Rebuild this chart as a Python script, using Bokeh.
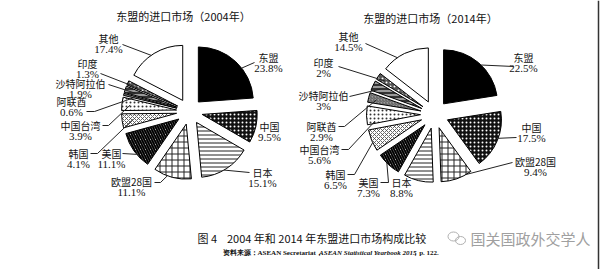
import math
from bokeh.plotting import figure
from bokeh.models import Range1d
from bokeh.core.properties import value
from bokeh.embed import file_html
from bokeh.resources import INLINE

W, H = 600, 269

# ---------------- data ----------------
title_2004 = "东盟的进口市场（2004年）"
title_2014 = "东盟的进口市场（2014年）"
cats_2004 = ["东盟", "中国", "日本", "欧盟28国", "美国", "韩国", "中国台湾", "阿联酋", "沙特阿拉伯", "印度", "其他"]
vals_2004 = [23.8, 9.5, 15.1, 11.1, 11.1, 4.1, 3.9, 0.6, 1.9, 1.3, 17.4]
cats_2014 = ["东盟", "中国", "欧盟28国", "日本", "美国", "韩国", "中国台湾", "阿联酋", "沙特阿拉伯", "印度", "其他"]
vals_2014 = [22.5, 17.5, 9.4, 8.8, 7.3, 6.5, 5.6, 2.9, 3.0, 2.0, 14.5]
caption = "图\u00a04\u00a0\u00a0\u00a0\u00a02004\u00a0年和\u00a02014\u00a0年东盟进口市场构成比较"
source_a = "资料来源：ASEAN Secretariat，"
source_b = "ASEAN Statistical Yearbook 2015"
source_c = "，p. 122."
watermark = "国关国政外交学人"

# ---------------- styles ----------------
STY = {
    "东盟": dict(fill_color="black"),
    "中国": dict(fill_color="#111111", hatch_pattern="dot", hatch_color="white", hatch_scale=4, hatch_weight=1.5),
    "日本": dict(fill_color="white", hatch_pattern="horizontal_line", hatch_color="#222222", hatch_scale=4, hatch_weight=1),
    "欧盟28国": dict(fill_color="white", hatch_pattern="cross", hatch_color="#222222", hatch_scale=6, hatch_weight=1),
    "美国": dict(fill_color="white", hatch_pattern="left_diagonal_line", hatch_color="black", hatch_scale=5, hatch_weight=2),
    "韩国": dict(fill_color="white", hatch_pattern="diagonal_cross", hatch_color="#444444", hatch_scale=4, hatch_weight=0.8),
    "中国台湾": dict(fill_color="white", hatch_pattern="dot", hatch_color="#333333", hatch_scale=4, hatch_weight=1.5),
    "阿联酋": dict(fill_color="#999999", hatch_pattern="right_diagonal_line", hatch_color="#444444", hatch_scale=3, hatch_weight=0.7),
    "沙特阿拉伯": dict(fill_color="#333333", hatch_pattern="horizontal_line", hatch_color="white", hatch_scale=4, hatch_weight=1),
    "印度": dict(fill_color="#555555", hatch_pattern="dot", hatch_color="white", hatch_scale=4, hatch_weight=1.5),
    "其他": dict(fill_color="white"),
}

CJK = value("Noto Sans CJK SC")
SERIF = value("Liberation Serif")

# label layout (screen px): name centre, optional leader start points, target (angle deg, radius fraction)
LAB04 = {
    "东盟": dict(x=268, y=57, line=[(254, 62)], tgt=(52, 1.0)),
    "中国": dict(x=269, y=126, line=None),
    "日本": dict(x=262, y=172, line=[(249, 172)], tgt=(150, 1.0)),
    "欧盟28国": dict(x=131, y=181, line=[(154, 182), (160, 182)], tgt=(200, 1.0)),
    "美国": dict(x=111, y=153, line=[(122, 153)], tgt=(230, 1.0)),
    "韩国": dict(x=78, y=153, line=[(90, 153), (97, 153)], tgt=(262, 0.8)),
    "中国台湾": dict(x=80, y=125, line=[(102, 125), (108, 125)], tgt=(276, 0.85)),
    "阿联酋": dict(x=71, y=101, line=[(86, 111), (94, 111)], tgt=(284, 0.8)),
    "沙特阿拉伯": dict(x=80, y=83, line=[(108, 84)], tgt=(288.5, 0.8)),
    "印度": dict(x=87, y=63, line=[(100, 73)], tgt=(294.3, 0.8)),
    "其他": dict(x=108, y=38, line=[(122, 44)], tgt=(325, 1.0)),
}
LAB14 = {
    "东盟": dict(x=523, y=57, line=[(513, 66)], tgt=(44, 1.0)),
    "中国": dict(x=531, y=127, line=[(516, 137)], tgt=(110, 1.0)),
    "欧盟28国": dict(x=535, y=161, line=[(512, 162)], tgt=(150, 1.0)),
    "日本": dict(x=401, y=182, line=None),
    "美国": dict(x=368, y=182, line=[(380, 182), (388, 182)], tgt=(225, 1.0)),
    "韩国": dict(x=335, y=174, line=[(347, 174), (354, 174)], tgt=(245, 1.0)),
    "中国台湾": dict(x=319, y=149, line=[(341, 149), (348, 149)], tgt=(262, 0.85)),
    "阿联酋": dict(x=321, y=126, line=[(338, 126), (344, 126)], tgt=(284, 0.85)),
    "沙特阿拉伯": dict(x=323, y=95, line=[(349, 96)], tgt=(295, 0.85)),
    "印度": dict(x=323, y=62, line=[(338, 66)], tgt=(304, 0.85)),
    "其他": dict(x=348, y=36, line=[(365, 43)], tgt=(325, 1.0)),
}

p = figure(width=W, height=H, x_range=Range1d(0, W), y_range=Range1d(0, H),
           output_backend="svg", toolbar_location=None,
           x_axis_type=None, y_axis_type=None, min_border=0)
p.grid.visible = False
p.outline_line_color = None
p.background_fill_color = "white"
p.border_fill_color = "white"


def Y(y):
    return H - y


def draw_pie(cats, vals, C, r, d, labels):
    total = sum(vals)
    acc = 0.0
    lxs, lys = [], []
    for cat, v in zip(cats, vals):
        t1 = acc / total * 360.0
        acc += v
        t2 = acc / total * 360.0
        mid = math.radians((t1 + t2) / 2)
        ax = C[0] + d * math.sin(mid)
        ay = C[1] - d * math.cos(mid)
        st = dict(STY[cat])
        p.wedge(x=ax, y=Y(ay), radius=r,
                start_angle=math.radians(90 - t2), end_angle=math.radians(90 - t1),
                line_color="black", line_width=1, **st)
        lab = labels[cat]
        p.text(x=[lab["x"]], y=[Y(lab["y"])], text=[cat], text_align="center",
               text_baseline="middle", text_font=CJK, text_font_size="10px",
               text_color="#111111")
        p.text(x=[lab["x"]], y=[Y(lab["y"] + 10)], text=[f"{v:g}%"], text_align="center",
               text_baseline="middle", text_font=SERIF, text_font_size="11px",
               text_color="#111111")
        if lab.get("line"):
            a, f = lab["tgt"]
            ar = math.radians(a)
            tx = ax + f * r * math.sin(ar)
            ty = ay - f * r * math.cos(ar)
            pts = lab["line"] + [(tx, ty)]
            lxs.append([q[0] for q in pts])
            lys.append([Y(q[1]) for q in pts])
    p.multi_line(xs=lxs, ys=lys, line_color="#222222", line_width=1)


draw_pie(cats_2004, vals_2004, (189, 111), 55, 13, LAB04)
draw_pie(cats_2014, vals_2014, (434, 114), 54, 14, LAB14)

# titles
p.text(x=[183], y=[Y(15)], text=[title_2004], text_align="center", text_baseline="middle",
       text_font=CJK, text_font_size="11px", text_color="#111111")
p.text(x=[430], y=[Y(17)], text=[title_2014], text_align="center", text_baseline="middle",
       text_font=CJK, text_font_size="11px", text_color="#111111")

# caption and source
p.text(x=[197], y=[Y(237)], text=[caption], text_align="left", text_baseline="middle",
       text_font=CJK, text_font_size="11px", text_color="#111111")
fs = 7.0
xa = 222
p.text(x=[xa], y=[Y(252)], text=[source_a], text_align="left", text_baseline="middle",
       text_font=SERIF, text_font_size=f"{fs}px", text_font_style="bold", text_color="#111111")
xb = xa + 13.8 * fs
p.text(x=[xb], y=[Y(252)], text=[source_b], text_align="left", text_baseline="middle",
       text_font=SERIF, text_font_size=f"{fs}px", text_font_style="bold italic", text_color="#111111")
xc = xb + 13.3 * fs
p.text(x=[xc], y=[Y(252)], text=[source_c], text_align="left", text_baseline="middle",
       text_font=SERIF, text_font_size=f"{fs}px", text_font_style="bold", text_color="#111111")

# watermark
p.ellipse(x=[453, 460], y=[Y(236), Y(240)], width=[11, 10], height=[9, 8],
          fill_color=None, line_color="#b0b0b0", line_width=1)
p.text(x=[470], y=[Y(238)], text=[watermark], text_align="left", text_baseline="middle",
       text_font=CJK, text_font_size="15px", text_color="#a0a0a0")

# right frame line
p.segment(x0=[598], y0=[0], x1=[598], y1=[H], line_color="#333333", line_width=1.5)

open("out.html", "w").write(file_html(p, INLINE))
